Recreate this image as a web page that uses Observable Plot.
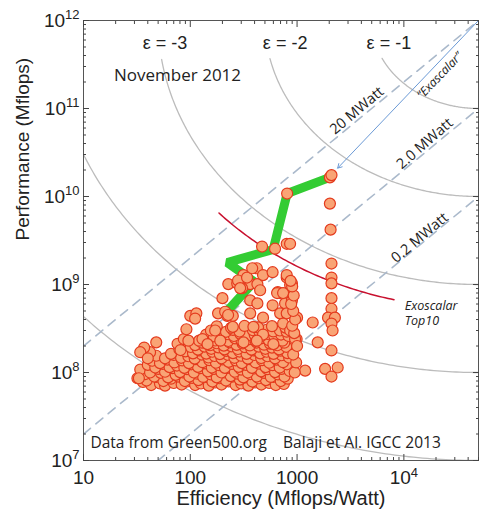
<!DOCTYPE html>
<html><head><meta charset="utf-8">
<script src="https://cdn.jsdelivr.net/npm/d3@7"></script>
<script src="https://cdn.jsdelivr.net/npm/@observablehq/plot@0.6"></script>
<style>body{margin:0;background:#fff} #chart svg{display:block}</style>
</head><body><div id="chart"></div>
<script>
// ---- data: [efficiency (Mflops/Watt), performance (units of 1e8 Mflops)] ----
const denseBand = [
  [36,.78],[43,.72],[52,.75],[58,.71],[70,.76],[83,.73],[94,.79],[111,.72],[126,.75],[149,.71],[171,.77],[196,.73],[229,.79],[266,.72],[300,.75],[350,.71],[404,.77],[463,.73],[548,.76],[632,.72],[752,.74],
  [32,.86],[39,.81],[48,.89],[56,.8],[66,.85],[77,.9],[89,.8],[104,.87],[119,.82],[141,.89],[161,.79],[187,.86],[216,.81],[249,.9],[291,.83],[330,.88],[381,.79],[439,.86],[511,.82],[598,.89],[703,.8],[818,.85],
  [38,.96],[46,.9],[53,.99],[62,.88],[73,.94],[85,1.0],[98,.9],[116,.97],[132,.89],[156,.95],[177,.88],[207,1.0],[239,.91],[276,.97],[314,.88],[366,.96],[420,.9],[491,.99],[568,.89],[662,.95],[762,.9],
  [34,1.08],[42,1.0],[50,1.1],[58,1.02],[68,1.12],[80,1.01],[93,1.09],[108,1.0],[125,1.12],[146,1.03],[167,1.1],[196,1.0],[224,1.13],[261,1.02],[299,1.08],[346,1.0],[398,1.11],[461,1.03],[529,1.09],[622,1.01],[718,1.1],[852,1.04],
  [40,1.22],[47,1.14],[55,1.25],[64,1.15],[75,1.2],[88,1.13],[102,1.24],[118,1.16],[138,1.27],[159,1.14],[186,1.21],[211,1.13],[246,1.25],[284,1.16],[331,1.22],[378,1.13],[441,1.26],[508,1.15],[591,1.21],[688,1.14],[802,1.24],
  [44,1.36],[52,1.28],[61,1.4],[71,1.3],[84,1.37],[97,1.28],[113,1.42],[130,1.31],[151,1.38],[174,1.29],[201,1.41],[229,1.32],[267,1.37],[304,1.28],[356,1.42],[409,1.3],[471,1.38],[549,1.29],[643,1.4],[739,1.31],
  [48,1.55],[58,1.45],[70,1.58],[82,1.47],[96,1.53],[110,1.44],[128,1.6],[148,1.48],[169,1.54],[196,1.45],[224,1.59],[259,1.47],[299,1.55],[346,1.44],[398,1.58],[461,1.46],[528,1.53],[622,1.45],[718,1.57],[842,1.48],
  [42,1.7],[66,1.63],[90,1.74],[106,1.65],[122,1.78],[141,1.64],[161,1.72],[189,1.62],[217,1.76],[251,1.66],[289,1.73],[336,1.63],[389,1.78],[451,1.65],[519,1.72],[602,1.63],[698,1.77],[812,1.66],
  [37,1.92],[79,1.84],[101,1.95],[118,1.82],[136,1.97],[157,1.86],[183,1.93],[209,1.83],[243,1.98],[279,1.85],[326,1.94],[374,1.82],[437,1.97],[504,1.86],[581,1.92],[679,1.83],[792,1.96],
  [76,2.12],[111,2.05],[129,2.18],[153,2.04],[177,2.15],[206,2.02],[234,2.2],[271,2.06],[309,2.14],[361,2.03],[419,2.19],[491,2.07],[558,2.13],[652,2.04],[758,2.18],
  [87,2.4],[121,2.3],[146,2.45],[171,2.31],[201,2.42],[227,2.28],[263,2.44],[301,2.32],[351,2.38],[409,2.29],[471,2.46],[544,2.33],[631,2.41],[729,2.3],
  [141,2.7],[166,2.58],[226,2.72],[256,2.6],[294,2.75],[341,2.62],[401,2.68],[459,2.58],[532,2.74],[611,2.61],[708,2.7],[831,2.6],
  [156,3.0],[216,2.9],[251,3.05],[289,2.92],[386,3.02],[444,2.9],[521,3.06],[598,2.93],[691,3.0],[799,2.91],
  [177,3.35],[241,3.22],[322,3.38],[431,3.25],[582,3.36],[779,3.24]
];
const scattered = [
  [34,1.7],[33,0.86],[40,1.45],[48,2.2],[81,1.8],[92,3.1],[96,2.3],[100,4.4],[114,4.7],[111,4.1],[130,2.4],[145,2.1],
  [227,10.1],[275,10.3],[364,10.1],[425,10.1],[305,9.1],[451,8.6],[694,8.0],[800,8.0],[895,10.3],[590,5.8],[772,6.1],
  [364,6.6],[425,6.1],[182,4.7],[222,4.4],[364,4.7],[480,4.2],[694,4.7],[800,4.7],[1000,4.2],[171,3.0],[250,3.3],
  [390,3.3],[480,2.7],[740,3.6],[861,3.0],[191,2.3],[315,2.2],[420,2.3],[600,2.1],[990,2.4],
  [470,27],[622,25.5],[800,29],[420,15.3],[315,12.8],[480,12.8],[590,13.8],[280,11.1],[293,9.1],[800,12.0],[861,9.9],
  [660,8.2],[200,7.0],[340,12],[250,4.4],[380,15.3],[650,8],[740,8],[895,6.6],
  [2100,17.3],[2100,12],[2100,10.3],[2100,7.0],[2100,5.3],[1950,4.2],[2260,4.2],[2100,3.6],[2150,3.0],[1400,3.7],
  [1560,2.2],[2100,1.78],[2400,1.14],[1830,1.1],[2100,0.9],[1190,1.05],[958,2.4],[800,12.8],
  [2030,83],[2060,42],[2030,165],[2100,175],[807,108],[860,29],[212,4.9],[226,4.5],
  [950,1.0],[980,1.3],[920,1.6],[1000,2.0],[940,2.8],[900,3.4],[960,4.0],[920,5.0],[880,6.0],[930,7.5],[900,9.5],[870,11]
];
// Top-10 path (green)
const top10Eff  = [212, 396, 222, 597, 807, 2030];
const top10Perf = [4.7e8, 1.08e9, 1.78e9, 2.5e9, 1.08e10, 1.65e10];
// Exascale goal and contour levels
const exascaleEff = 5e4, exascalePerf = 1e12;
const exascalarLevels = [1, 2, 3, 4, 5];       // decades from the goal
const top10Exascalar = 3.27;                   // "Exoscalar Top10" contour
const top10ArcAngles = [42, 76.3];             // degrees
const powerLevelsW = [2e5, 2e6, 2e7];          // 0.2, 2.0, 20 MWatt
const arrowEnd = [2400, 2.1e10];
const xTickMajor = [10, 100, 1000, 1e4];
const yTickMajor = [1e7, 1e8, 1e9, 1e10, 1e11, 1e12];

// ---- derived tables ----
const systems = [...denseBand, ...scattered].map(([e, p]) => ({eff: e, perf: p * 1e8}));
const top10Path = top10Eff.map((e, i) => ({eff: e, perf: top10Perf[i]}));
function arc(r, a0, a1) {
  return d3.range(a0, a1 + 0.001, 0.5).map(deg => {
    const t = deg * Math.PI / 180;
    return {r, eff: exascaleEff * 10 ** (-r * Math.cos(t)), perf: exascalePerf * 10 ** (-r * Math.sin(t))};
  });
}
const arcs = exascalarLevels.flatMap(r => arc(r, 0, 90).filter(d => d.perf <= 10 ** 11.57));
const top10Arc = arc(top10Exascalar, top10ArcAngles[0], top10ArcAngles[1]);
const powerLines = powerLevelsW.flatMap(P => [10, exascaleEff].map(e => ({P, eff: e, perf: P * e})));
const minor = (lo, hi) => d3.range(lo, hi).flatMap(k => d3.range(2, 10).map(m => m * 10 ** k));
const xMinor = minor(1, 5).filter(v => v <= 5e4);
const yMinor = minor(7, 12);

const sans = "Liberation Sans, Arial, sans-serif";
const calibri = "Open Sans, Lato, sans-serif";

const chart = Plot.plot({
  width: 485, height: 518,
  marginLeft: 83, marginRight: 7, marginTop: 20, marginBottom: 58,
  style: {fontFamily: sans, background: "white", color: "#222"},
  x: {type: "log", domain: [10, 5e4]},
  y: {type: "log", domain: [1e7, 1e12]},
  marks: [
    Plot.line(arcs, {x: "eff", y: "perf", z: "r", stroke: "#bcbcbc", strokeWidth: 1.3, clip: true}),
    Plot.line(powerLines, {x: "eff", y: "perf", z: "P", stroke: "#aab9cb", strokeWidth: 1.6, strokeDasharray: "9,7", clip: true}),
    Plot.arrow([{x1: exascaleEff, y1: exascalePerf, x2: arrowEnd[0], y2: arrowEnd[1]}],
      {x1: "x1", y1: "y1", x2: "x2", y2: "y2", stroke: "#6b9ad6", strokeWidth: 1, headLength: 7}),
    Plot.line(top10Arc, {x: "eff", y: "perf", stroke: "#c8102e", strokeWidth: 1.5}),
    Plot.line(top10Path, {x: "eff", y: "perf", stroke: "#33cc33", strokeWidth: 9, strokeLinejoin: "miter"}),
    Plot.dot(systems, {x: "eff", y: "perf", r: 5.5, fill: "#f9a475", stroke: "#e43a1d", strokeWidth: 1.2}),
    Plot.frame({stroke: "#555"}),
    // axes: labels
    Plot.axisX({ticks: xTickMajor, tickSize: 0, tickPadding: 10, fontSize: 19, label: null,
      tickFormat: d => d >= 1e4 ? "10^" + Math.round(Math.log10(d)) : String(d)}),
    Plot.axisY({ticks: yTickMajor, tickSize: 0, tickPadding: 4, fontSize: 19, label: null,
      tickFormat: d => "10^" + Math.round(Math.log10(d))}),
    // tick marks on all four sides, pointing inward
    ...["bottom", "top"].flatMap(anchor => [
      Plot.axisX({anchor, ticks: xTickMajor, tickSize: -6, tickFormat: () => "", label: null, stroke: "#444"}),
      Plot.axisX({anchor, ticks: xMinor, tickSize: -3, tickFormat: () => "", label: null, stroke: "#444"})
    ]),
    ...["left", "right"].flatMap(anchor => [
      Plot.axisY({anchor, ticks: yTickMajor, tickSize: -6, tickFormat: () => "", label: null, stroke: "#444"}),
      Plot.axisY({anchor, ticks: yMinor, tickSize: -3, tickFormat: () => "", label: null, stroke: "#444"})
    ]),
    // axis titles
    Plot.text(["Performance (Mflops)"], {frameAnchor: "left", dx: -61, rotate: -90, fontSize: 19, fill: "#222"}),
    Plot.text(["Efficiency (Mflops/Watt)"], {frameAnchor: "bottom", dy: 44, fontSize: 20, fill: "#222"}),
    // annotations
    Plot.text([
      {t: "ε = -3", eff: 58, perf: 5.5e11},
      {t: "ε = -2", eff: 773, perf: 5.5e11},
      {t: "ε = -1", eff: 7240, perf: 5.5e11}
    ], {x: "eff", y: "perf", text: "t", fontSize: 18, fill: "#222"}),
    Plot.text([{t: "November 2012", eff: 76, perf: 2.37e11}], {x: "eff", y: "perf", text: "t", fontSize: 17, fontFamily: calibri, fill: "#222"}),
    Plot.text([
      {t: "20 MWatt", eff: 3630, perf: 9.5e10, a: -40},
      {t: "2.0 MWatt", eff: 15700, perf: 4.0e10, a: -41},
      {t: "0.2 MWatt", eff: 14100, perf: 3.4e9, a: -40}
    ], {x: "eff", y: "perf", text: "t", rotate: "a", fontSize: 14.5, fontFamily: calibri, fill: "#222"}),
    Plot.text([{t: "“Exascalar”", eff: 21700, perf: 2.37e11}], {x: "eff", y: "perf", text: "t", rotate: -46, fontSize: 12, fontStyle: "italic", fontFamily: calibri, fill: "#222"}),
    Plot.text([{t: "Exoscalar", eff: 10200, perf: 5.77e8}, {t: "Top10", eff: 10200, perf: 3.8e8}],
      {x: "eff", y: "perf", text: "t", textAnchor: "start", fontSize: 12.5, fontStyle: "italic", fontFamily: calibri, fill: "#222"}),
    Plot.text([{t: "Data from Green500.org", eff: 11.6, perf: 1.6e7}, {t: "Balaji et Al. IGCC 2013", eff: 740, perf: 1.6e7}],
      {x: "eff", y: "perf", text: "t", textAnchor: "start", fontSize: 15.5, fontFamily: calibri, fill: "#222"})
  ]
});

// superscript exponents in tick labels
d3.select(chart).selectAll("text").each(function () {
  const m = /^10\^(\d+)$/.exec(this.textContent);
  if (!m) return;
  const sel = d3.select(this);
  sel.text("");
  sel.append("tspan").text("10");
  sel.append("tspan").attr("dy", "-0.55em").attr("font-size", "13px").text(m[1]);
});
document.getElementById("chart").appendChild(chart);
</script></body></html>
